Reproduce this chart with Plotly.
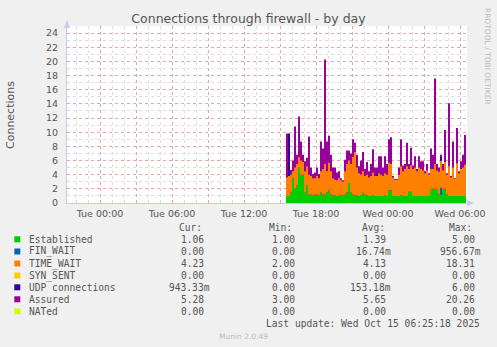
import pandas as pd
import plotly.graph_objects as go

# ---------------- data ----------------
times = pd.date_range("2025-10-14 15:30", periods=91, freq="10min")

established = [1.0, 1.0, 1.5, 3.5, 2.0, 2.5, 5.0, 4.0, 4.0, 1.5,
               2.5, 1.2, 1.2, 1.1, 1.2, 1.2, 1.1, 1.5, 1.2, 1.2,
               1.5, 1.8, 1.2, 1.1, 1.1, 1.0, 1.1, 1.2, 1.1, 1.2,
               1.5, 2.8, 1.5, 1.2, 1.1, 1.1, 1.0, 1.1, 1.5, 1.2,
               1.1, 1.0, 1.0, 1.1, 1.0, 1.0, 1.0, 1.0, 1.0, 1.1,
               1.0, 1.8, 1.8, 1.0, 1.0, 1.0, 1.0, 1.1, 1.0, 1.0,
               1.0, 1.6, 1.6, 1.0, 1.0, 1.0, 1.0, 1.0, 1.0, 1.0,
               1.0, 1.0, 1.9, 2.0, 2.0, 1.9, 1.2, 1.2, 2.0, 2.0,
               1.2, 1.0, 1.0, 1.0, 1.0, 1.0, 1.0, 1.0, 1.0, 1.0,
               1.06]
fin_wait = [0.0] * 77 + [0.96] + [0.0] * 13
orange_top = [3.6, 3.8, 4.0, 4.5, 5.0, 5.5, 6.5, 6.0, 5.8, 4.5,
              5.2, 4.0, 3.8, 3.5, 3.5, 3.8, 3.5, 4.5, 4.8, 5.5,
              4.5, 5.7, 4.5, 3.5, 3.3, 3.2, 3.5, 3.2, 3.0, 4.5,
              5.5, 6.0, 5.5, 6.5, 7.2, 5.0, 4.2, 4.0, 4.5, 3.8,
              4.0, 3.6, 3.8, 4.3, 3.8, 3.8, 4.2, 4.0, 3.8, 4.2,
              4.0, 5.7, 5.5, 3.6, 3.3, 3.3, 4.0, 5.2, 4.5, 4.8,
              5.2, 4.8, 5.3, 4.8, 5.0, 4.5, 5.0, 4.8, 4.6, 4.2,
              4.6, 4.0, 4.8, 4.8, 5.5, 4.6, 4.4, 5.0, 4.6, 5.8,
              4.0, 5.2, 3.6, 5.0, 3.4, 5.6, 4.2, 4.8, 5.0, 5.4,
              5.29]
time_wait = [round(o - e, 2) for o, e in zip(orange_top, established)]
syn_sent = [0.0] * 91
udp = [0.0, 6.0, 0.0, 0.0, 0.0, 0.0, 0.0, 0.0, 0.0, 0.0,
       0.0, 0.0, 0.0, 0.0, 0.0, 0.0, 0.0, 0.0, 0.0, 0.0,
       0.0, 0.0, 0.0, 0.0, 0.0, 0.0, 0.0, 0.0, 0.0, 0.0,
       0.0, 0.0, 0.0, 0.0, 0.0, 0.0, 0.0, 0.0, 0.0, 0.0,
       0.0, 0.0, 0.0, 0.0, 0.0, 0.5, 0.0, 0.0, 0.0, 0.0,
       0.0, 0.0, 0.0, 0.0, 0.0, 0.0, 0.0, 0.0, 0.0, 0.0,
       0.0, 0.0, 0.0, 0.0, 0.0, 0.0, 0.0, 0.0, 0.0, 0.0,
       0.0, 0.0, 0.0, 0.0, 0.0, 0.0, 0.0, 0.5, 0.0, 0.0,
       0.0, 0.0, 0.0, 0.0, 0.0, 0.0, 0.0, 0.0, 0.0, 0.0,
       0.94]
assured = [9.8, 5.0, 4.7, 6.0, 10.8, 6.8, 12.2, 8.7, 6.8, 5.9,
           6.4, 9.4, 5.0, 4.1, 4.3, 5.0, 4.1, 8.7, 7.7, 20.26,
           8.7, 9.5, 6.8, 5.0, 5.0, 4.3, 4.5, 3.5, 3.2, 6.1,
           7.4, 7.4, 7.0, 9.0, 8.5, 6.8, 5.2, 6.0, 7.2, 4.8,
           5.8, 4.5, 5.5, 7.6, 5.0, 5.0, 6.6, 6.6, 5.0, 6.6,
           5.5, 9.0, 9.3, 3.8, 3.4, 3.4, 5.0, 9.0, 5.3, 5.5,
           8.5, 5.5, 7.8, 5.3, 6.6, 4.8, 6.6, 5.9, 5.9, 4.5,
           5.5, 4.2, 7.7, 6.8, 17.6, 5.5, 5.0, 6.8, 5.5, 10.3,
           4.2, 14.1, 3.8, 8.7, 3.5, 10.6, 4.5, 5.9, 6.8, 9.6,
           5.28]
nated = [0.0] * 91

names = ["Established", "FIN_WAIT", "TIME_WAIT", "SYN_SENT",
         "UDP connections", "Assured", "NATed"]
colors = ["#00CC00", "#0066B3", "#FF8000", "#FFCC00",
          "#330099", "#990099", "#CCFF00"]
cur_vals = ["1.06", "0.00", "4.23", "0.00", "943.33m", "5.28", "0.00"]
min_vals = ["1.00", "0.00", "2.00", "0.00", "0.00", "3.00", "0.00"]
avg_vals = ["1.39", "16.74m", "4.13", "0.00", "153.18m", "5.65", "0.00"]
max_vals = ["5.00", "956.67m", "18.31", "0.00", "6.00", "20.26", "0.00"]

tick_times = pd.date_range("2025-10-14 00:00", "2025-10-15 06:00", freq="3h")
tick_text = [t.strftime("%a %H:%M") if t.hour % 6 == 0 else "" for t in tick_times]
x_range = ["2025-10-13 21:15", "2025-10-15 06:35"]
y_ticks = list(range(0, 25, 2))

# ---------------- figure ----------------
W, H = 497, 347
L, R, T, B = 67, 30, 26, 144
PW, PH = W - L - R, H - T - B


def px(x):
    return (x - L) / PW


def py(y):
    return (H - B - y) / PH


fig = go.Figure()

# Assured drawn first as an area; the stack covers it from below
fig.add_trace(go.Scatter(x=times, y=assured, mode="lines", fill="tozeroy",
                         line=dict(width=0, shape="hv", color=colors[5]),
                         fillcolor=colors[5], name=names[5], hoverinfo="skip"))

stack_series = [(established, 0), (fin_wait, 1), (time_wait, 2),
                (syn_sent, 3), (udp, 4), (nated, 6)]
for ser, ci in stack_series:
    fig.add_trace(go.Scatter(x=times, y=ser, mode="lines", stackgroup="one",
                             line=dict(width=0, shape="hv", color=colors[ci]),
                             fillcolor=colors[ci], name=names[ci],
                             hoverinfo="skip"))

grid_major = "rgba(235,120,120,0.55)"
grid_minor = "rgba(180,180,180,0.45)"
axis_col = "#C8C8F0"
tick_font = dict(family="DejaVu Sans", size=9.5, color="#555555")

fig.update_xaxes(type="date", range=x_range, tickvals=list(tick_times),
                 ticktext=tick_text, showgrid=True, gridcolor=grid_major,
                 griddash="dot", gridwidth=1,
                 minor=dict(dtick=3600000, tick0="2025-10-14 00:00",
                            showgrid=True, gridcolor=grid_minor,
                            griddash="dot", gridwidth=1),
                 showline=True, linecolor=axis_col, linewidth=1,
                 ticks="", tickfont=tick_font, zeroline=False,
                 ticklabelstandoff=2, fixedrange=True)
fig.update_yaxes(range=[0, 25], tickvals=y_ticks, showgrid=True,
                 gridcolor=grid_major, griddash="dot", gridwidth=1,
                 minor=dict(dtick=1, showgrid=True, gridcolor=grid_minor,
                            griddash="dot", gridwidth=1),
                 showline=True, linecolor=axis_col, linewidth=1,
                 ticks="", tickfont=tick_font, zeroline=False,
                 ticklabelstandoff=6, fixedrange=True)

shapes = []
# axis arrows
shapes.append(dict(type="path", xref="paper", yref="paper",
                   path=f"M {px(64)} {py(28)} L {px(70)} {py(28)} L {px(67)} {py(20)} Z",
                   fillcolor=axis_col, line=dict(width=0)))
shapes.append(dict(type="path", xref="paper", yref="paper",
                   path=f"M {px(467)} {py(200)} L {px(467)} {py(206)} L {px(474)} {py(203)} Z",
                   fillcolor=axis_col, line=dict(width=0)))

ann = []
mono = "DejaVu Sans Mono"
fs = 9.6
txt_col = "#555555"
row_y = [239.3, 251.5, 263.5, 275.5, 287.3, 299.3, 311.3]
headers = [("Cur:", 176.7), ("Min:", 266.7), ("Avg:", 360.0), ("Max:", 446.7)]
for h, hx in headers:
    ann.append(dict(text=h, x=px(hx), y=py(227.3), xref="paper", yref="paper",
                    xanchor="left", yanchor="middle", showarrow=False,
                    font=dict(family=mono, size=fs, color=txt_col)))
col_right = [205.8, 296.7, 387.5, 476.8]
char_w = 5.8
for i, nm in enumerate(names):
    yv = row_y[i]
    shapes.append(dict(type="rect", xref="paper", yref="paper",
                       x0=px(14.3), x1=px(20.3), y0=py(yv + 3), y1=py(yv - 3),
                       fillcolor=colors[i], line=dict(width=0)))
    ann.append(dict(text=nm, x=px(26.7), y=py(yv), xref="paper", yref="paper",
                    xanchor="left", yanchor="middle", showarrow=False,
                    font=dict(family=mono, size=fs, color=txt_col)))
    for cr, vals in zip(col_right, [cur_vals, min_vals, avg_vals, max_vals]):
        v = vals[i]
        xr = cr + (char_w if v.endswith("m") else 0)
        ann.append(dict(text=v, x=px(xr), y=py(yv), xref="paper", yref="paper",
                        xanchor="right", yanchor="middle", showarrow=False,
                        font=dict(family=mono, size=fs, color=txt_col)))

ann.append(dict(text="Last update: Wed Oct 15 06:25:18 2025", x=px(482), y=py(323.3),
                xref="paper", yref="paper", xanchor="right", yanchor="middle",
                showarrow=False, font=dict(family=mono, size=fs, color=txt_col)))
ann.append(dict(text="Munin 2.0.49", x=px(243.5), y=py(336), xref="paper", yref="paper",
                xanchor="center", yanchor="middle", showarrow=False,
                font=dict(family="DejaVu Sans", size=7.5, color="#BBBBBB")))
ann.append(dict(text="RRDTOOL / TOBI OETIKER", x=px(488), y=py(56), xref="paper",
                yref="paper", xanchor="center", yanchor="middle", textangle=90,
                showarrow=False, font=dict(family="DejaVu Sans", size=7.5, color="#BBBBBB")))
ann.append(dict(text="Connections", x=px(11), y=py(115), xref="paper", yref="paper",
                xanchor="center", yanchor="middle", textangle=-90, showarrow=False,
                font=dict(family="DejaVu Sans", size=11, color="#555555")))

fig.update_layout(
    width=W, height=H,
    margin=dict(l=L, r=R, t=T, b=B),
    paper_bgcolor="#F0F0F0", plot_bgcolor="#FFFFFF",
    showlegend=False,
    title=dict(text="Connections through firewall - by day", x=0.5, xanchor="center",
               y=1 - 18.5 / H, yanchor="middle",
               font=dict(family="DejaVu Sans", size=12.5, color="#555555")),
    shapes=shapes, annotations=ann,
)

fig.write_html("out.html")
